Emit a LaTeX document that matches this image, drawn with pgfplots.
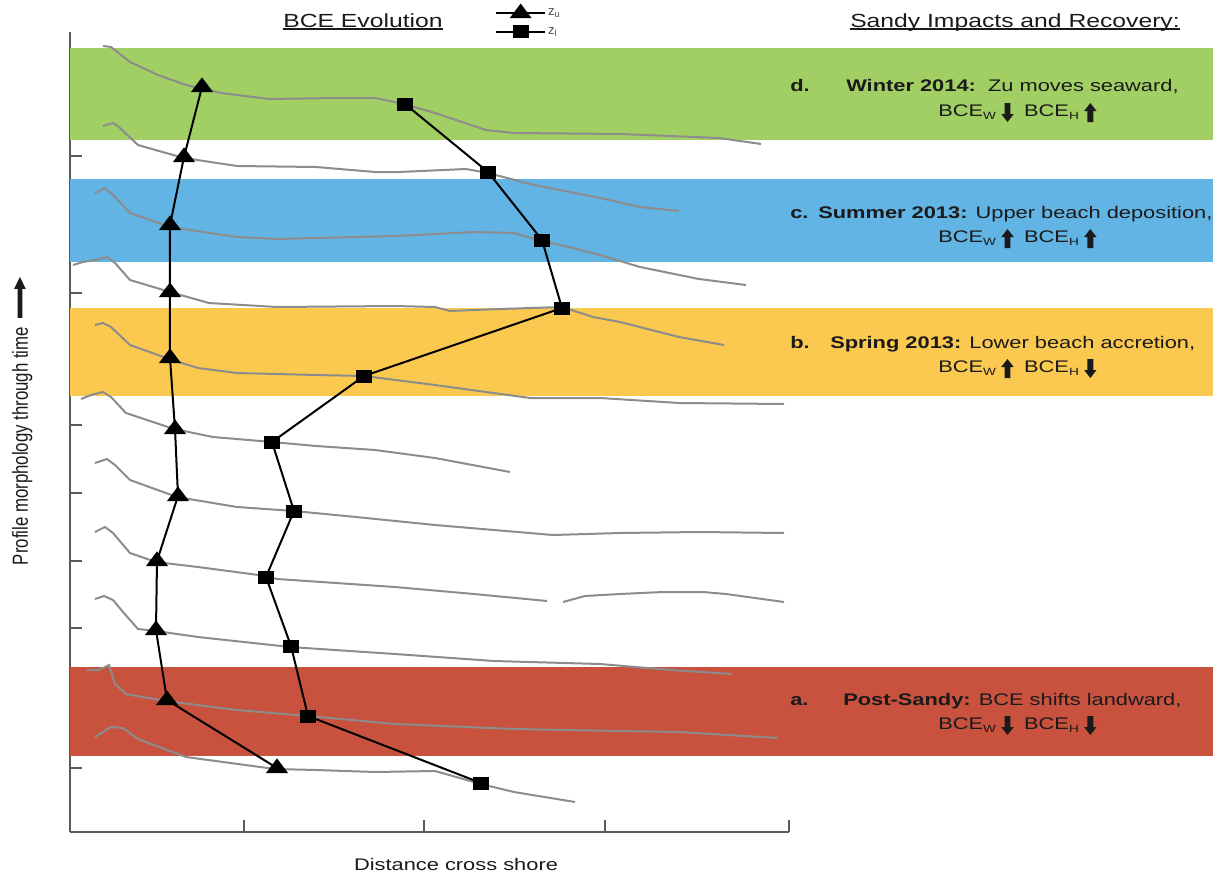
\documentclass[border=0pt]{standalone}
\usepackage{fontspec}
\setmainfont{Liberation Sans}
\usepackage{pgfplots}
\pgfplotsset{compat=1.18}
\definecolor{bgreen}{HTML}{A2CF64}
\definecolor{bblue}{HTML}{62B4E4}
\definecolor{borange}{HTML}{FBC94F}
\definecolor{bred}{HTML}{C8523E}
\definecolor{pgray}{HTML}{8C8C8C}
\definecolor{axgray}{HTML}{5A5A5A}
\definecolor{txt}{HTML}{1A1A1A}
\newcommand\ul[1]{\setbox0\hbox{#1}\rlap{\rule[-2.5bp]{\wd0}{1.3bp}}\box0}
\newcommand\sub[1]{\raisebox{-3.5bp}{\fontsize{10.5bp}{11bp}\selectfont #1}}
\newsavebox\uparbox
\newsavebox\dnarbox
\newsavebox\rarrbox
\newcommand\upar{\usebox\uparbox}
\newcommand\dnar{\usebox\dnarbox}
\newcommand\rarr{\usebox\rarrbox}
\newcommand\bce[2]{BCE\sub{W}\hspace{4bp}#1\hspace{8bp}BCE\sub{H}\hspace{4bp}#2}
\newcommand\hdfont{\fontsize{19bp}{22bp}\selectfont}
\newcommand\bdfont{\fontsize{16.8bp}{19bp}\selectfont}
\begin{document}%
\sbox\uparbox{\tikz[baseline=6bp]\fill[txt] (-2.3bp,0) -- (2.3bp,0) -- (2.3bp,11bp) -- (4.8bp,11bp) -- (0,19bp) -- (-4.8bp,11bp) -- (-2.3bp,11bp) -- cycle;}%
\sbox\dnarbox{\tikz[baseline=6bp]\fill[txt] (-2.3bp,19bp) -- (2.3bp,19bp) -- (2.3bp,8bp) -- (4.8bp,8bp) -- (0,0) -- (-4.8bp,8bp) -- (-2.3bp,8bp) -- cycle;}%
\sbox\rarrbox{\tikz[baseline=-6.2bp]\fill[txt] (0,-1.8bp) -- (29bp,-1.8bp) -- (29bp,-4.5bp) -- (41bp,0) -- (29bp,4.5bp) -- (29bp,1.8bp) -- (0,1.8bp) -- cycle;}%
\begin{tikzpicture}
\begin{axis}[
  x=1bp, y=1bp, y dir=reverse,
  xmin=70, xmax=789, ymin=32, ymax=832,
  axis x line*=bottom, axis y line*=left,
  axis line style={axgray, line width=1.6bp, -},
  xtick={244,424,605,789},
  ytick={89,156,223,293,360,425,493,561,628,698,768},
  xticklabels={}, yticklabels={},
  tick align=inside, major tick length=12bp,
  tick style={axgray, line width=1.4bp},
  clip=false,
  legend image code/.code={\draw[mark repeat=2, mark phase=2, #1] plot coordinates {(0bp,0bp) (24.5bp,0bp) (49bp,0bp)};},
  legend cell align=left,
  legend style={at={(axis cs:495,5)}, anchor=north west, draw=none, fill=none,
    font=\fontsize{13bp}{14bp}\selectfont, text=black!70, row sep=6bp,
    inner sep=0pt, nodes={inner sep=2bp}},
]
% bands
\addplot[fill=bgreen, draw=none, forget plot] coordinates {(70,48) (1213,48) (1213,140) (70,140)} -- cycle;
\addplot[fill=bblue, draw=none, forget plot] coordinates {(70,179) (1213,179) (1213,262) (70,262)} -- cycle;
\addplot[fill=borange, draw=none, forget plot] coordinates {(70,308) (1213,308) (1213,396) (70,396)} -- cycle;
\addplot[fill=bred, draw=none, forget plot] coordinates {(70,667) (1213,667) (1213,756) (70,756)} -- cycle;
% profiles
\addplot[pgray, line width=2bp, forget plot] coordinates {(103,46) (111,47) (130,62) (158,75) (186,85) (221,93) (269,99) (336,98) (375,98) (404,104) (435,113) (486,130) (514,133) (620,134) (719,138) (761,144)};
\addplot[pgray, line width=2bp, forget plot] coordinates {(103,126) (113,123) (119,127) (138,145) (166,153) (184,158) (237,166) (316,167) (375,172) (399,172) (466,169) (488,173) (534,185) (600,198) (640,207) (679,211)};
\addplot[pgray, line width=2bp, forget plot] coordinates {(95,193) (105,188) (115,197) (130,213) (170,227) (237,237) (277,239) (395,236) (474,232) (514,233) (542,241) (573,248) (600,255) (640,267) (699,279) (746,285)};
\addplot[pgray, line width=2bp, forget plot] coordinates {(73,265) (83,262) (95,260) (107,257) (115,263) (130,280) (170,292) (209,303) (277,307) (395,306) (435,307) (450,311) (500,309) (562,307) (593,317) (620,322) (679,337) (724,345)};
\addplot[pgray, line width=2bp, forget plot] coordinates {(95,325) (103,323) (111,327) (130,345) (169,359) (198,368) (237,373) (316,375) (364,376) (435,385) (530,398) (600,398) (679,403) (784,404)};
\addplot[pgray, line width=2bp, forget plot] coordinates {(81,399) (91,395) (103,392) (111,397) (126,413) (174,429) (213,437) (272,442) (316,446) (375,450) (435,458) (510,472)};
\addplot[pgray, line width=2bp, forget plot] coordinates {(95,463) (107,459) (115,465) (130,480) (177,497) (237,507) (294,511) (356,517) (435,525) (553,535) (620,533) (700,532) (784,533)};
\addplot[pgray, line width=2bp, forget plot] coordinates {(95,532) (105,527) (113,533) (130,553) (156,562) (198,567) (266,576) (277,579) (395,587) (474,594) (547,601)};
\addplot[pgray, line width=2bp, forget plot] coordinates {(563,602) (585,596) (620,594) (663,592) (703,592) (726,594) (784,602)};
\addplot[pgray, line width=2bp, forget plot] coordinates {(95,599) (104,596) (113,600) (123,612) (138,629) (156,631) (198,637) (290,647) (395,654) (494,661) (600,664) (671,670) (732,674)};
\addplot[pgray, line width=2bp, forget plot] coordinates {(87,670) (99,670) (109,665) (115,684) (126,694) (166,701) (237,710) (308,716) (395,724) (514,729) (620,731) (679,732) (777,738)};
\addplot[pgray, line width=2bp, forget plot] coordinates {(95,737) (111,727) (123,728) (138,739) (186,757) (275,769) (316,770) (375,772) (435,771) (481,784) (514,792) (575,802)};
% BCE series
\addplot[black, line width=2bp, mark=triangle*, mark size=8bp, mark options={xscale=1.3, solid, fill=black}] coordinates {(202,87) (184,157) (170,225) (170,292) (170,358) (175,429) (178,496) (157,561) (156,630) (167,700) (277,768)};
\addplot[black, line width=2bp, mark=square*, mark size=5.5bp, mark options={xscale=1.3, solid, fill=black}] coordinates {(405,104) (488,172) (542,240) (562,308) (364,376) (272,442) (294,511) (266,577) (291,646) (308,716) (481,783)};
\legend{z\textsubscript{u}, z\textsubscript{l}}
% titles
\node[anchor=base, xscale=1.3, font=\hdfont, text=txt, inner sep=0] at (axis cs:363,27) {\ul{BCE Evolution}};
\node[anchor=base, xscale=1.3, font=\hdfont, text=txt, inner sep=0] at (axis cs:1015,27) {\ul{Sandy Impacts and Recovery:}};
% annotations
\node[anchor=base west, xscale=1.3, font=\bdfont, text=txt, inner sep=0] at (axis cs:790,91) {\textbf{d.}};
\node[anchor=base west, xscale=1.3, font=\bdfont, text=txt, inner sep=0] at (axis cs:846,91) {\textbf{Winter 2014:}\ \ Zu moves seaward,};
\node[anchor=base west, xscale=1.3, font=\bdfont, text=txt, inner sep=0] at (axis cs:938,116) {\bce{\dnar}{\upar}};
\node[anchor=base west, xscale=1.3, font=\bdfont, text=txt, inner sep=0] at (axis cs:790,218) {\textbf{c.}};
\node[anchor=base west, xscale=1.3, font=\bdfont, text=txt, inner sep=0] at (axis cs:818,218) {\textbf{Summer 2013:} Upper beach deposition,};
\node[anchor=base west, xscale=1.3, font=\bdfont, text=txt, inner sep=0] at (axis cs:938,242) {\bce{\upar}{\upar}};
\node[anchor=base west, xscale=1.3, font=\bdfont, text=txt, inner sep=0] at (axis cs:790,348) {\textbf{b.}};
\node[anchor=base west, xscale=1.3, font=\bdfont, text=txt, inner sep=0] at (axis cs:830,348) {\textbf{Spring 2013:} Lower beach accretion,};
\node[anchor=base west, xscale=1.3, font=\bdfont, text=txt, inner sep=0] at (axis cs:938,372) {\bce{\upar}{\dnar}};
\node[anchor=base west, xscale=1.3, font=\bdfont, text=txt, inner sep=0] at (axis cs:790,705) {\textbf{a.}};
\node[anchor=base west, xscale=1.3, font=\bdfont, text=txt, inner sep=0] at (axis cs:843,705) {\textbf{Post-Sandy:} BCE shifts landward,};
\node[anchor=base west, xscale=1.3, font=\bdfont, text=txt, inner sep=0] at (axis cs:938,729) {\bce{\dnar}{\dnar}};
% axis labels
\node[anchor=base, xscale=1.3, font=\bdfont, text=txt, inner sep=0] at (axis cs:456,870) {Distance cross shore};
\node[rotate=90, yscale=1.3, anchor=base, font=\bdfont, text=txt, inner sep=0] at (axis cs:28,421) {Profile morphology through time\hspace{9bp}\rarr};
\coordinate (TL) at (axis cs:0,0);
\coordinate (BR) at (axis cs:1213,877);
\end{axis}
\pgfresetboundingbox
\path[use as bounding box] (TL) rectangle (BR);
\end{tikzpicture}%
\end{document}
